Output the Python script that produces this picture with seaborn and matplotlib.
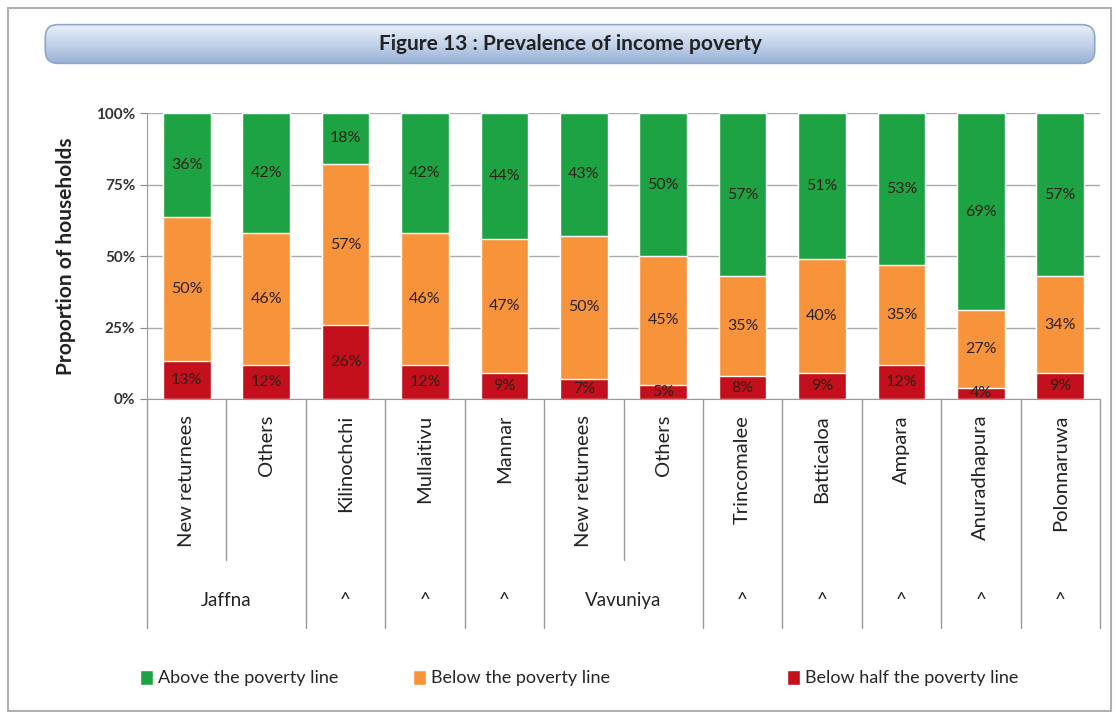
import numpy as np
import pandas as pd
import matplotlib
matplotlib.use('Agg')
import matplotlib.pyplot as plt
from matplotlib.patches import FancyBboxPatch, Rectangle, Patch
import seaborn as sns

# Data
districts = ['New returnees', 'Others', 'Kilinochchi', 'Mullaitivu', 'Mannar',
             'New returnees', 'Others', 'Trincomalee', 'Batticaloa', 'Ampara',
             'Anuradhapura', 'Polonnaruwa']
groups = ['Jaffna', 'Jaffna', '^', '^', '^', 'Vavuniya', 'Vavuniya', '^', '^', '^', '^', '^']
below_half = [13, 12, 26, 12, 9, 7, 5, 8, 9, 12, 4, 9]
below_line = [50, 46, 57, 46, 47, 50, 45, 35, 40, 35, 27, 34]
above_line = [36, 42, 18, 42, 44, 43, 50, 57, 51, 53, 69, 57]

series_names = ['Above the poverty line', 'Below the poverty line', 'Below half the poverty line']
colors = ['#1ea344', '#f7933a', '#c4101c']

ids = [f'{g}|{d}|{i}' for i, (g, d) in enumerate(zip(groups, districts))]
df = pd.DataFrame({'id': ids, 'red': below_half, 'orange': below_line, 'green': above_line})
total = df[['red', 'orange', 'green']].sum(axis=1)
# 100% stacked, like the Excel original
for c in ['red', 'orange', 'green']:
    df[c + '_pct'] = df[c] / total * 100
df['cum_red'] = df['red_pct']
df['cum_orange'] = df['red_pct'] + df['orange_pct']
df['cum_green'] = df['cum_orange'] + df['green_pct']

sns.set_style('white')
plt.rcParams['font.family'] = ['Lato', 'DejaVu Sans']

fig = plt.figure(figsize=(11.19, 7.12), dpi=100)
ax = fig.add_axes([147 / 1119, 1 - 399 / 712, (1100 - 147) / 1119, (399 - 113) / 712])

# stacked bars drawn as overlapping cumulative totals
sns.barplot(data=df, x='id', y='cum_green', order=ids, color=colors[0], width=0.6, saturation=1, ax=ax)
sns.barplot(data=df, x='id', y='cum_orange', order=ids, color=colors[1], width=0.6, saturation=1, ax=ax)
sns.barplot(data=df, x='id', y='cum_red', order=ids, color=colors[2], width=0.6, saturation=1, ax=ax)

# segment labels
for i, row in df.iterrows():
    segs = [(row['red_pct'] / 2, row['red']),
            (row['red_pct'] + row['orange_pct'] / 2, row['orange']),
            (row['cum_orange'] + row['green_pct'] / 2, row['green'])]
    for y, v in segs:
        ax.text(i, y, f'{v}%', ha='center', va='center', fontsize=11.5, color='#2b2118')

ax.set_ylim(0, 100)
ax.set_xlim(-0.5, len(ids) - 0.5)
ax.set_yticks([0, 25, 50, 75, 100])
ax.set_yticklabels(['0%', '25%', '50%', '75%', '100%'], fontsize=11, fontweight='bold', color='#333333')
ax.yaxis.grid(True, color='#aaaaaa', linewidth=1)
ax.set_axisbelow(True)
ax.tick_params(axis='y', length=5, color='#888888', left=True)
ax.set_xticks([])
ax.set_xlabel('')
ax.set_ylabel('Proportion of households', fontsize=15, fontweight='bold', color='#222222', labelpad=14)
for s in ['top', 'right']:
    ax.spines[s].set_visible(False)
ax.spines['left'].set_color('#999999')
ax.spines['bottom'].set_color('#999999')

# category label table under the axis
trans = ax.get_xaxis_transform()
ybot = -(628 - 399) / (399 - 113)
ymid = -(560 - 399) / (399 - 113)
for k in range(len(ids) + 1):
    x = k - 0.5
    inner = 0 < k < len(ids) and groups[k] == groups[k - 1] and groups[k] != '^'
    ax.plot([x, x], [0, ymid if inner else ybot], transform=trans, color='#999999',
            lw=1, clip_on=False)
for i, d in enumerate(districts):
    ax.text(i, -(415 - 399) / (399 - 113), d, transform=trans, rotation=90,
            ha='center', va='top', fontsize=14.5, color='#222222')
k = 0
while k < len(groups):
    j = k
    while j + 1 < len(groups) and groups[j + 1] == groups[k] and groups[k] != '^':
        j += 1
    ax.text((k + j) / 2, -(601 - 399) / (399 - 113), groups[k], transform=trans,
            ha='center', va='center', fontsize=13.5, color='#222222')
    k = j + 1

# title banner with gradient
bax = fig.add_axes([40 / 1119, 1 - 66 / 712, (1100 - 40) / 1119, 44 / 712])
bax.set_axis_off()
grad = np.linspace(0, 1, 256).reshape(-1, 1)
cmap = matplotlib.colors.LinearSegmentedColormap.from_list('b', ['#eef3fa', '#c3d3ea', '#93acd3'])
im = bax.imshow(grad, aspect='auto', cmap=cmap, extent=[0, 1, 0, 1], origin='upper')
box = FancyBboxPatch((0.005, 0.06), 0.99, 0.88, boxstyle='round,pad=0,rounding_size=0.012',
                     transform=bax.transAxes, facecolor='none', edgecolor='#8ea6c8', lw=1.2,
                     mutation_aspect=24)
bax.add_patch(box)
im.set_clip_path(box)
bax.set_xlim(0, 1)
bax.set_ylim(0, 1)
bax.text(0.5, 0.5, 'Figure 13 : Prevalence of income poverty', ha='center', va='center',
         fontsize=15, fontweight='bold', color='#222222', transform=bax.transAxes)

# outer frame
fig.patches.append(Rectangle((8 / 1119, 0.002), 1 - 16 / 1119, 1 - 8 / 712 - 0.002,
                             transform=fig.transFigure, fill=False, edgecolor='#b0b0b0', lw=1.5))

# legend entries placed like the original
leg_x = [140, 413, 787]
for c, n, x in zip(colors, series_names, leg_x):
    lg = fig.legend(handles=[Patch(facecolor=c, label=n)], loc='center left',
                    bbox_to_anchor=(x / 1119, 1 - 678 / 712), frameon=False, fontsize=13,
                    handlelength=0.7, handleheight=0.9, handletextpad=0.3, borderaxespad=0,
                    borderpad=0)

fig.savefig('out.png', dpi=100)
